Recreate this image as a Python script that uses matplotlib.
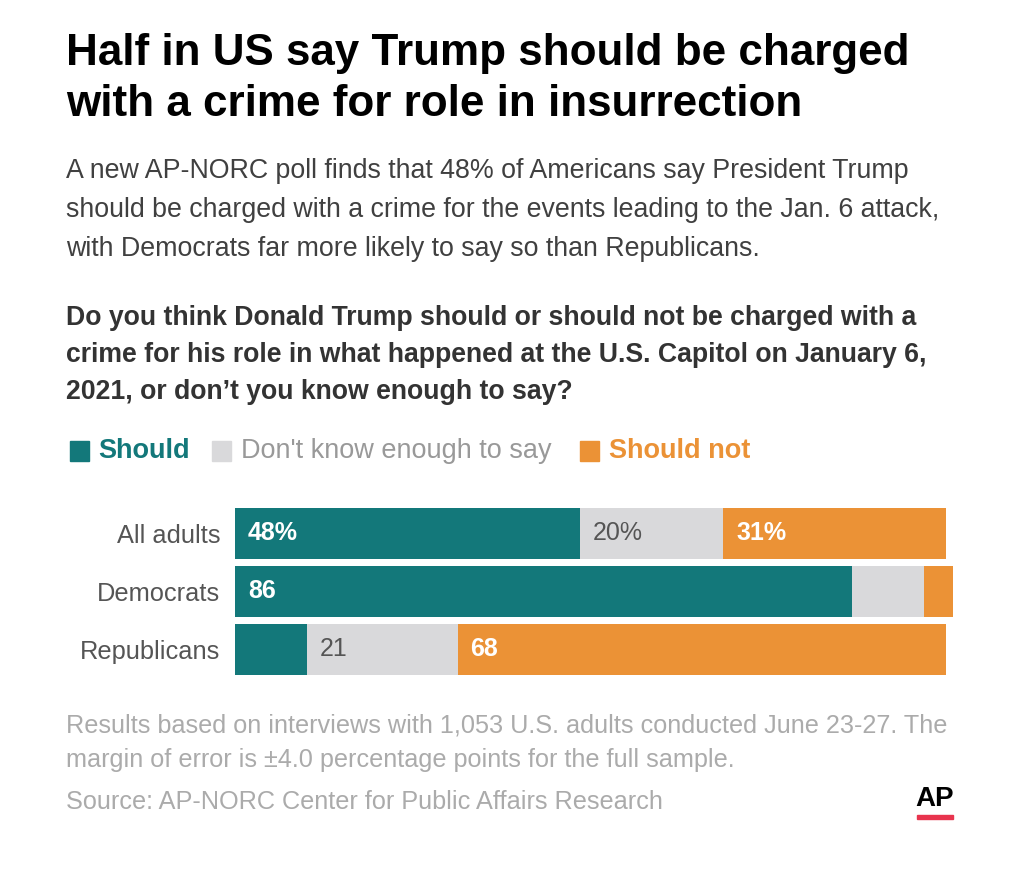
import matplotlib.pyplot as plt
from matplotlib.font_manager import fontManager

# data
groups = ['All adults', 'Democrats', 'Republicans']
should = [48, 86, 10]
dont_know = [20, 10, 21]
should_not = [31, 4, 68]
should_lbl = ['48%', '86', '']
dk_lbl = ['20%', '', '21']
sn_lbl = ['31%', '', '68']

teal = '#13787A'
grey = '#D9D9DB'
orange = '#EB9236'

names = {f.name for f in fontManager.ttflist}
fam = 'Liberation Sans Narrow' if 'Liberation Sans Narrow' in names else 'Liberation Sans'
plt.rcParams['font.family'] = [fam, 'DejaVu Sans']

W, H = 1024, 877
fig = plt.figure(figsize=(W / 100, H / 100), dpi=100)


def txt(x, y, s, **kw):
    fig.text(x / W, 1 - y / H, s, **kw)


# titles
txt(66, 53, 'Half in US say Trump should be charged', fontsize=31.7, weight='bold', va='center')
txt(66, 105, 'with a crime for role in insurrection', fontsize=31.7, weight='bold', va='center')

sub = ['A new AP-NORC poll finds that 48% of Americans say President Trump',
       'should be charged with a crime for the events leading to the Jan. 6 attack,',
       'with Democrats far more likely to say so than Republicans.']
for i, s in enumerate(sub):
    txt(66, 171 + i * 39, s, fontsize=19.3, color='#404040', va='center')

q = ['Do you think Donald Trump should or should not be charged with a',
     'crime for his role in what happened at the U.S. Capitol on January 6,',
     '2021, or don\u2019t you know enough to say?']
for i, s in enumerate(q):
    txt(66, 318 + i * 37, s, fontsize=19.2, weight='bold', color='#333333', va='center')

# legend
leg = [(70, 98, 'Should', teal, teal, 'bold'),
       (212, 241, "Don't know enough to say", grey, '#999999', 'normal'),
       (580, 609, 'Should not', orange, orange, 'bold')]
for sx, tx, s, c, tc, w in leg:
    fig.patches.append(plt.Rectangle((sx / W, 1 - 461 / H), 19 / W, 20 / H,
                                     transform=fig.transFigure, color=c))
    txt(tx, 451, s, fontsize=19.5, color=tc, weight=w, va='center')

# bars
ax = fig.add_axes([235 / W, 1 - 678.5 / H, 718 / W, 174 / H])
y = range(len(groups))
left2 = [a + b for a, b in zip(should, dont_know)]
ax.barh(y, should, height=0.87, color=teal)
ax.barh(y, dont_know, left=should, height=0.87, color=grey)
ax.barh(y, should_not, left=left2, height=0.87, color=orange)
for i in y:
    ax.text(1.8, i, should_lbl[i], color='white', weight='bold', fontsize=18, va='center')
    ax.text(should[i] + 1.8, i, dk_lbl[i], color='#555555', fontsize=18, va='center')
    ax.text(left2[i] + 1.8, i, sn_lbl[i], color='white', weight='bold', fontsize=18, va='center')
ax.set_xlim(0, 100)
ax.set_ylim(2.5, -0.5)
ax.set_yticks(list(y))
ax.set_yticklabels(groups, fontsize=18.3, color='#555555')
ax.tick_params(left=False, bottom=False, labelbottom=False, pad=7)
for sp in ax.spines.values():
    sp.set_visible(False)

# footer
foot = ['Results based on interviews with 1,053 U.S. adults conducted June 23-27. The',
        'margin of error is \u00b14.0 percentage points for the full sample.']
for i, s in enumerate(foot):
    txt(66, 726 + i * 34, s, fontsize=18.2, color='#ABABAB', va='center')
txt(66, 802, 'Source: AP-NORC Center for Public Affairs Research', fontsize=18.2, color='#ABABAB', va='center')

# AP logo
txt(935, 799, 'AP', fontsize=20, weight='bold', color='black', ha='center', va='center',
    family='Liberation Sans')
fig.patches.append(plt.Rectangle((917 / W, 1 - 819 / H), 36 / W, 4 / H,
                                 transform=fig.transFigure, color='#E8344E'))

fig.savefig('out.png', dpi=100, facecolor='white')
